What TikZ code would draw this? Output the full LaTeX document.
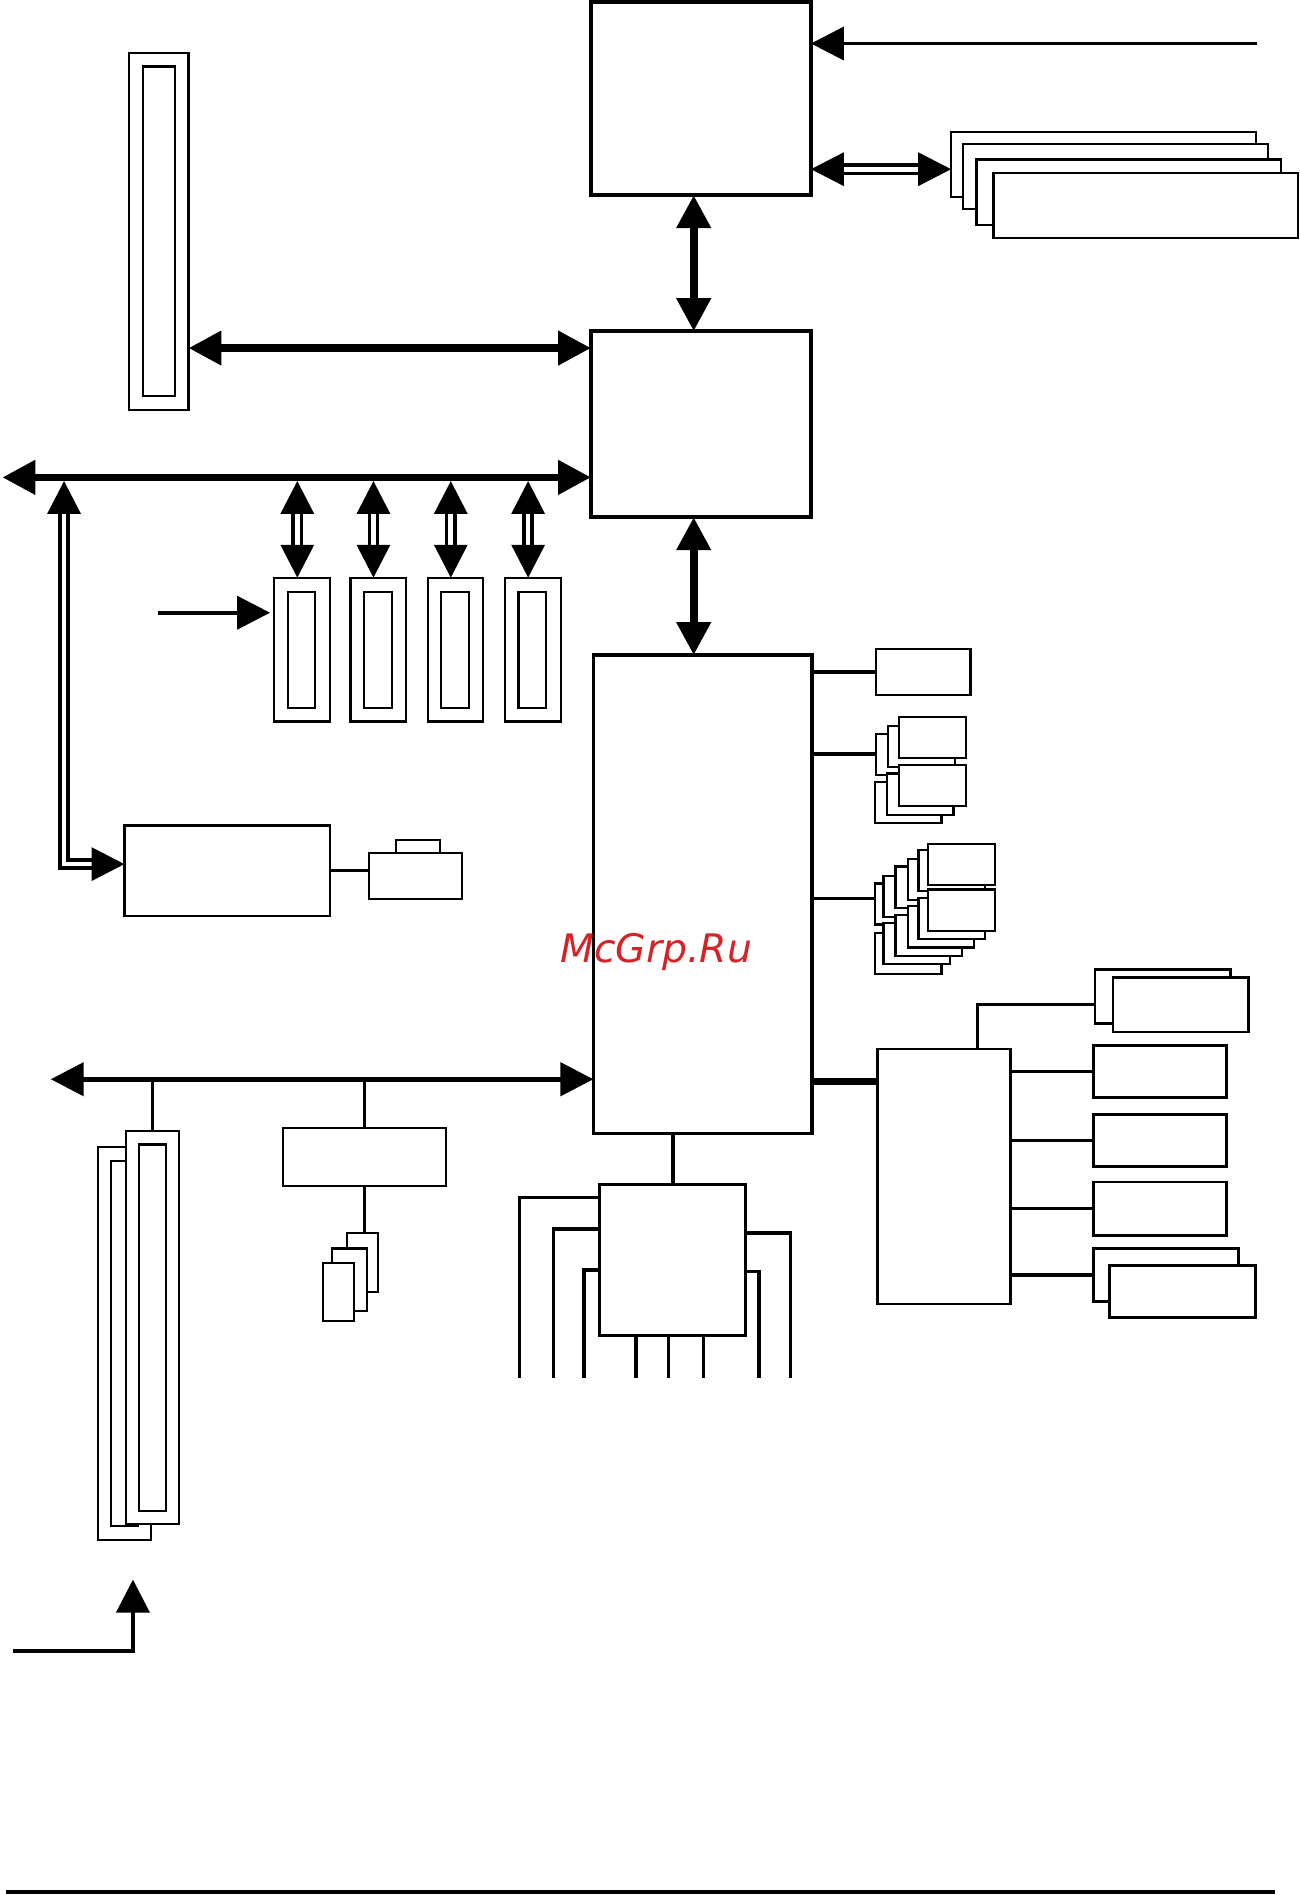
\documentclass[tikz,border=0pt]{standalone}
\usepackage{fontspec}
\newfontfamily\wmfont{DejaVu Sans}
\usetikzlibrary{calc, positioning}
\usetikzlibrary{arrows.meta}
\definecolor{wmred}{RGB}{212,36,40}

\begin{document}
\begin{tikzpicture}[x=0.02cm, y=-0.02cm,
  >={Triangle[length=15.5pt,width=15.5pt]},
  box/.style={draw, fill=white, line width=1pt, inner sep=0pt, outer sep=0pt, anchor=north west},
  chip/.style={box, line width=1.7pt},
  sz/.style 2 args={minimum width=#1*\pxu, minimum height=#2*\pxu},
  link/.style={line width=1.7pt},
  bus/.style={line width=3.6pt, <->},
  pcibus/.style={line width=2.2pt, <->},
  dbl/.style={double, double distance=2.2pt, line width=1.7pt, <->},
  sig/.style={line width=1.8pt, ->}]
\def\pxu{0.02cm}

\useasboundingbox (0,0) rectangle (1076,1568);

\node[chip, sz={182}{160}] (cpu) at (489,1.5) {};
\foreach \n/\x/\y in {1/787/109,2/797/119,3/808/132,4/822/143}
  \node[box, sz={252}{54}] (m\n) at (\x,\y) {};
\node[chip, sz={182}{154}] (nb) at (489,274) {};

\node[box, sz={49}{295}] (agp) at (107,44) {};
\node[box, sz={27}{273}] (agpin) at (118,55) {};

\foreach \i/\x in {1/227,2/290,3/354,4/418} {
  \node[box, sz={46}{119}] (s\i) at (\x,478) {};
  \node[box, sz={23}{96}] (si\i) at (\x+11,490) {};
}

\node[box, sz={170}{75}] (lan) at (103,683) {};
\node[box, sz={36}{11}] (rjtab) at (328,695) {};
\node[box, sz={77}{38}] (rj) at (305,706) {};

\node[chip, sz={181}{396}] (sb) at (491,542) {};
\node[box, sz={78}{38}] (bx1) at (725,537) {};
\foreach \n/\x/\y in {1/725/607,2/735/601,3/744/593}
  \node[box, sz={55}{34}] (a\n) at (\x,\y) {};
\foreach \n/\x/\y in {1/724/647,2/734/640,3/744/633}
  \node[box, sz={55}{34}] (b\n) at (\x,\y) {};
\foreach \n/\x/\y in {1/724/731,2/731/725,3/741/717,4/751/711,5/760/703,6/768/698}
  \node[box, sz={55}{34}] (g\n) at (\x,\y) {};
\foreach \n/\x/\y in {1/724/772,2/731/764,3/741/757,4/751/750,5/760/743,6/768/736}
  \node[box, sz={55}{34}] (h\n) at (\x,\y) {};

\node[box, line width=1.3pt, sz={110}{211}] (io) at (726,868) {};
\node[box, line width=1.3pt, sz={112}{45}] (e1b) at (906,802) {};
\node[box, line width=1.3pt, sz={112}{45}] (e1f) at (921,809) {};
\node[box, line width=1.3pt, sz={110}{43}] (e2) at (905,865) {};
\node[box, line width=1.3pt, sz={110}{43}] (e3) at (905,922) {};
\node[box, line width=1.3pt, sz={110}{44}] (e4) at (905,978) {};
\node[box, line width=1.3pt, sz={120}{44}] (e5b) at (905,1033) {};
\node[box, line width=1.3pt, sz={121}{43}] (e5f) at (918,1047) {};

\node[box, line width=1.4pt, sz={121}{125}] (ctl) at (496,980) {};

\node[box, sz={44}{325}] (pcb) at (81,949) {};
\node[box, sz={22}{302}] (pcbin) at (92,961) {};
\node[box, sz={44}{325}] (pcf) at (104,936) {};
\node[box, sz={22}{303}] (pcfin) at (115,947) {};

\node[box, sz={135}{48}] (aud) at (234,933) {};
\foreach \n/\x/\y/\w/\h in {1/287/1020/26/49,2/275/1033/29/52,3/267/1045/26/48}
  \node[box, sz={\w}{\h}] (k\n) at (\x,\y) {};

\node[anchor=base, inner sep=0pt, text=wmred, font=\wmfont\itshape\fontsize{18.5}{22}\selectfont] (wm) at (543,796) {McGrp.Ru};

\coordinate (clk) at (1040,36);
\draw[sig] (clk) -- (clk -| cpu.east);
\draw[dbl] (cpu.east |- 0,140) -- (m1.west |- 0,140);
\coordinate (v1) at ($(cpu.south)+(-6,0)$);
\draw[bus] (v1) -- (v1 |- nb.north);
\draw[bus] (agp.east |- 0,288) -- (nb.west |- 0,288);

\coordinate (busL) at (2,395);
\draw[bus] (busL) -- (busL -| nb.west);
\foreach \i/\x in {1/227,2/290,3/354,4/418} {
  \coordinate (t\i) at (\x+19,398);
  \draw[dbl] (t\i) -- (t\i |- s\i.north);
}
\coordinate (pin) at (131,507);
\draw[sig, shorten >=2pt] (pin) -- (pin -| s1.west);
\coordinate (busT) at (53,398);
\draw[dbl] (busT) |- ($(lan.west)+(0,-5.5)$);
\draw[line width=1.6pt] (lan.east) -- (lan.east -| rj.west);

\coordinate (v2) at ($(nb.south)+(-6,0)$);
\draw[bus] (v2) -- (v2 |- sb.north);

\draw[link] (sb.east |- bx1.west) -- (bx1.west);
\draw[link] (sb.east |- a1.west) -- (a1.west);
\draw[link] (sb.east |- 0,743.5) -- (g1.west |- 0,743.5);
\draw[line width=3.1pt] (sb.east |- 0,895) -- (io.west |- 0,895);
\draw[line width=1.6pt] ($(io.north west)+(83,0)$) |- (e1b.west |- 0,831);
\foreach \e in {e2,e3,e4,e5b}
  \draw[line width=1.6pt] (io.east |- \e.west) -- (\e.west);

\draw[line width=1.9pt] (sb.south -| ctl.north) -- (ctl.north);
\foreach \n/\x in {1/430,2/458,3/483,4/526,5/553,6/582,7/628,8/654}
  \coordinate (p\n) at (\x,1140);
\draw[link] (ctl.west |- 0,991) -| (p1);
\draw[link] (ctl.west |- 0,1017) -| (p2);
\draw[link] (ctl.west |- 0,1051) -| (p3);
\foreach \n in {4,5,6}
  \draw[link] (ctl.south -| p\n) -- (p\n);
\draw[link] (ctl.east |- 0,1052) -| (p7);
\draw[link] (ctl.east |- 0,1020) -| (p8);

\coordinate (busP) at (42,893);
\draw[pcibus] (busP) -- (busP -| sb.west);
\draw[line width=1.3pt] (pcf.north) -- (pcf.north |- busP);
\draw[line width=1.6pt] (aud.north) -- (aud.north |- busP);
\draw[line width=1.6pt] (aud.south) -- (aud.south |- k1.north);

\coordinate (ps) at (11,1366);
\coordinate (pt) at (110,1307);
\draw[sig] (ps) -| (pt);

\draw[line width=2pt] (5,1565.5) -- (1055,1565.5);

\end{tikzpicture}
\end{document}
